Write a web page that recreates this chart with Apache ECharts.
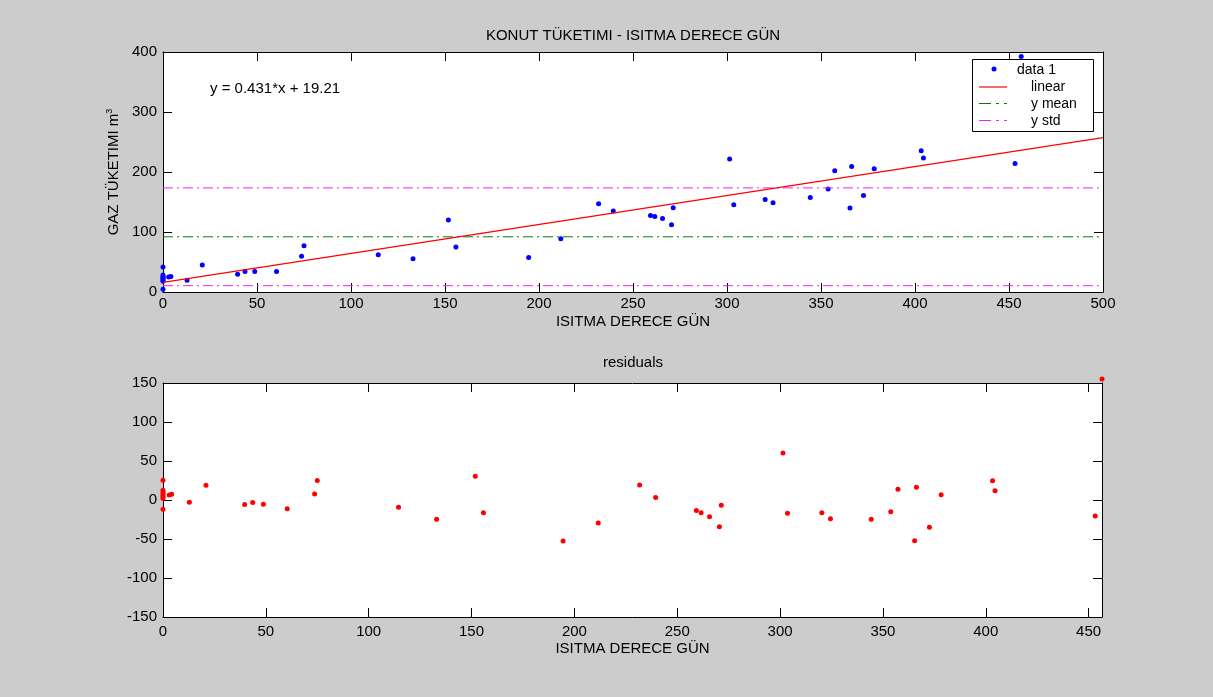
<!DOCTYPE html>
<html>
<head>
<meta charset="utf-8">
<script src="https://cdn.jsdelivr.net/npm/echarts@6/dist/echarts.min.js"></script>
<style>
  html, body { margin: 0; padding: 0; background: #cccccc; }
  #chart { width: 1213px; height: 697px; }
</style>
</head>
<body>
<div id="chart"></div>
<script>
// Heating degree days (x) and household gas consumption (y), one entry per observation
const heatingDegreeDays = [
  0, 0, 0, 0, 0, 0, 0, 0,
  3.0, 4.2, 12.8, 20.9, 39.7, 43.6, 48.8, 60.4, 73.7, 75.0,
  114.5, 133.0, 151.8, 155.8, 194.5, 211.6, 231.7, 239.5,
  259.3, 261.6, 265.7, 270.5, 271.4, 301.4, 303.6, 320.3,
  324.5, 344.3, 353.8, 357.3, 365.4, 366.3, 372.6, 378.3,
  403.3, 404.5, 453.2, 456.5
];
const gasConsumption = [
  41.5, 28.5, 26, 24, 22, 20, 18, 4.5,
  25, 26, 19.5, 45, 29.4, 34, 34, 34, 59.4, 77.2,
  62, 55.5, 120, 75.1, 57.5, 88.8, 147.2, 135,
  127.7, 126, 122.7, 112.2, 140.5, 221.7, 145.5, 154.3,
  148.8, 157.7, 171.7, 202.2, 140, 209.3, 161, 205.5,
  235.5, 223.3, 214.3, 392.7
];
// Residuals of the linear fit, same order as above
const residuals = [
  25.4, 12.4, 9.9, 7.9, 5.9, 3.9, 1.9, -12,
  6.5, 7.5, -2.8, 18.8, -5.9, -3.1, -5.6, -11.2, 7.7, 24.9,
  -9.4, -24.8, 30.5, -16.2, -52.5, -29.4, 19.3, 3.3,
  -13.5, -16.3, -21.6, -34.4, -6.6, 60.1, -17.1, -16.4,
  -23.9, -24.6, -15.1, 13.7, -52.4, 16.4, -34.9, 6.8,
  24.8, 12, -20.5, 155
];

// Fitted line as drawn, and the statistics of y
const fitSlope = 0.4826;
const fitIntercept = 16.1;
const yMean = 92;
const yStd = 81.5;
const equationText = 'y = 0.431*x + 19.21';

// Axis ticks
const topXTicks = [0, 50, 100, 150, 200, 250, 300, 350, 400, 450, 500];
const topYTicks = [0, 100, 200, 300, 400];
const resXTicks = [0, 50, 100, 150, 200, 250, 300, 350, 400, 450];
const resYTicks = [-150, -100, -50, 0, 50, 100, 150];

const FONT = 'Liberation Sans, Arial, sans-serif';
const FS = 15;
const INK = '#000000';
const MAGENTA = '#f020f0';
const GREEN = '#008000';
const DASH_DOT = [10, 4, 2, 4];
const xMaxRes = Math.max(...heatingDegreeDays);

function axisBase(extra) {
  return Object.assign({
    type: 'value',
    axisLine: { show: true, onZero: false, lineStyle: { color: INK, width: 1 } },
    axisTick: { show: true, inside: true, length: 9, lineStyle: { color: INK, width: 1 } },
    axisLabel: { color: INK, fontSize: FS, fontFamily: FONT },
    splitLine: { show: false },
    nameTextStyle: { color: INK, fontSize: FS, fontFamily: FONT }
  }, extra);
}
function mirror(extra) {
  const a = axisBase(extra);
  a.axisLabel = { show: false };
  return a;
}
function step(t) { return t[1] - t[0]; }

const pairs = heatingDegreeDays.map((x, i) => [x, gasConsumption[i]]);
const resPairs = heatingDegreeDays.map((x, i) => [x, residuals[i]]);
const xL = topXTicks[0], xR = topXTicks[topXTicks.length - 1];

const chart = echarts.init(document.getElementById('chart'), null, { renderer: 'canvas' });

chart.setOption({
  animation: false,
  backgroundColor: '#cccccc',
  textStyle: { fontFamily: FONT },
  grid: [
    { left: 163, top: 52, width: 940, height: 240, show: true, backgroundColor: '#ffffff', borderWidth: 0 },
    { left: 163, top: 383, width: 939, height: 234, show: true, backgroundColor: '#ffffff', borderWidth: 0 }
  ],
  xAxis: [
    axisBase({ gridIndex: 0, position: 'bottom', min: xL, max: xR, interval: step(topXTicks),
      axisLabel: { color: INK, fontSize: FS, fontFamily: FONT, margin: 4 },
      name: 'ISITMA DERECE GÜN', nameLocation: 'middle', nameGap: 22 }),
    mirror({ gridIndex: 0, position: 'top', min: xL, max: xR, interval: step(topXTicks) }),
    axisBase({ gridIndex: 1, position: 'bottom', min: 0, max: xMaxRes, interval: step(resXTicks),
      axisLabel: { color: INK, fontSize: FS, fontFamily: FONT, margin: 7, showMaxLabel: false,
        formatter: v => (resXTicks.indexOf(v) >= 0 ? String(v) : '') },
      name: 'ISITMA DERECE GÜN', nameLocation: 'middle', nameGap: 24 }),
    mirror({ gridIndex: 1, position: 'top', min: 0, max: xMaxRes, interval: step(resXTicks) })
  ],
  yAxis: [
    axisBase({ gridIndex: 0, position: 'left', min: topYTicks[0], max: topYTicks[topYTicks.length - 1],
      interval: step(topYTicks),
      axisLabel: { color: INK, fontSize: FS, fontFamily: FONT, margin: 6 },
      name: 'GAZ TÜKETIMI m{sup|3}', nameLocation: 'middle', nameGap: 38,
      nameTextStyle: { color: INK, fontSize: FS, fontFamily: FONT,
        rich: { sup: { fontSize: 9, verticalAlign: 'top', padding: [0, 0, 8, 0], color: INK, fontFamily: FONT } } } }),
    mirror({ gridIndex: 0, position: 'right', min: topYTicks[0], max: topYTicks[topYTicks.length - 1],
      interval: step(topYTicks) }),
    axisBase({ gridIndex: 1, position: 'left', min: resYTicks[0], max: resYTicks[resYTicks.length - 1],
      interval: step(resYTicks),
      axisLabel: { color: INK, fontSize: FS, fontFamily: FONT, margin: 6 } }),
    mirror({ gridIndex: 1, position: 'right', min: resYTicks[0], max: resYTicks[resYTicks.length - 1],
      interval: step(resYTicks) })
  ],
  series: [
    {
      name: 'y std', type: 'line', xAxisIndex: 0, yAxisIndex: 0, showSymbol: false, silent: true,
      data: [[xL, yMean + yStd], [xR, yMean + yStd]],
      lineStyle: { color: MAGENTA, width: 1, type: DASH_DOT }
    },
    {
      name: 'y std low', type: 'line', xAxisIndex: 0, yAxisIndex: 0, showSymbol: false, silent: true,
      data: [[xL, yMean - yStd], [xR, yMean - yStd]],
      lineStyle: { color: MAGENTA, width: 1, type: DASH_DOT }
    },
    {
      name: 'y mean', type: 'line', xAxisIndex: 0, yAxisIndex: 0, showSymbol: false, silent: true,
      data: [[xL, yMean], [xR, yMean]],
      lineStyle: { color: GREEN, width: 1, type: DASH_DOT }
    },
    {
      name: 'linear', type: 'line', xAxisIndex: 0, yAxisIndex: 0, showSymbol: false, silent: true,
      data: [[xL, fitIntercept], [xR, fitSlope * xR + fitIntercept]],
      lineStyle: { color: '#ff0000', width: 1.2 }
    },
    {
      name: 'data 1', type: 'scatter', xAxisIndex: 0, yAxisIndex: 0, clip: false,
      symbol: 'circle', symbolSize: 5, data: pairs,
      itemStyle: { color: '#0000ff', opacity: 1 }
    },
    {
      name: 'residuals', type: 'scatter', xAxisIndex: 2, yAxisIndex: 2, clip: false,
      symbol: 'circle', symbolSize: 5, data: resPairs,
      itemStyle: { color: '#ff0000', opacity: 1 }
    }
  ],
  graphic: [
    { type: 'text', x: 633, y: 36, z: 10,
      style: { text: 'KONUT TÜKETIMI - ISITMA DERECE GÜN', fill: INK, font: FS + 'px ' + FONT,
        textAlign: 'center', textVerticalAlign: 'middle' } },
    { type: 'text', x: 633, y: 363, z: 10,
      style: { text: 'residuals', fill: INK, font: FS + 'px ' + FONT,
        textAlign: 'center', textVerticalAlign: 'middle' } },
    { type: 'text', x: 210, y: 89, z: 10,
      style: { text: equationText, fill: INK, font: FS + 'px ' + FONT,
        textAlign: 'left', textVerticalAlign: 'middle' } },
    // legend box
    { type: 'rect', z: 20, shape: { x: 972.5, y: 59.5, width: 121, height: 72 },
      style: { fill: '#ffffff', stroke: INK, lineWidth: 1 } },
    { type: 'circle', z: 21, shape: { cx: 994, cy: 69, r: 2.5 }, style: { fill: '#0000ff' } },
    { type: 'text', z: 21, x: 1017, y: 70,
      style: { text: 'data 1', fill: INK, font: '14px ' + FONT, textVerticalAlign: 'middle' } },
    { type: 'line', z: 21, shape: { x1: 979, y1: 87, x2: 1007, y2: 87 },
      style: { stroke: '#ff0000', lineWidth: 1.2 } },
    { type: 'text', z: 21, x: 1031, y: 87,
      style: { text: 'linear', fill: INK, font: '14px ' + FONT, textVerticalAlign: 'middle' } },
    { type: 'line', z: 21, shape: { x1: 979, y1: 103.5, x2: 1007, y2: 103.5 },
      style: { stroke: GREEN, lineWidth: 1, lineDash: [12, 5, 3, 5] } },
    { type: 'text', z: 21, x: 1031, y: 104,
      style: { text: 'y mean', fill: INK, font: '14px ' + FONT, textVerticalAlign: 'middle' } },
    { type: 'line', z: 21, shape: { x1: 979, y1: 120.5, x2: 1007, y2: 120.5 },
      style: { stroke: MAGENTA, lineWidth: 1, lineDash: [12, 5, 3, 5] } },
    { type: 'text', z: 21, x: 1031, y: 121,
      style: { text: 'y std', fill: INK, font: '14px ' + FONT, textVerticalAlign: 'middle' } }
  ]
});
</script>
</body>
</html>
